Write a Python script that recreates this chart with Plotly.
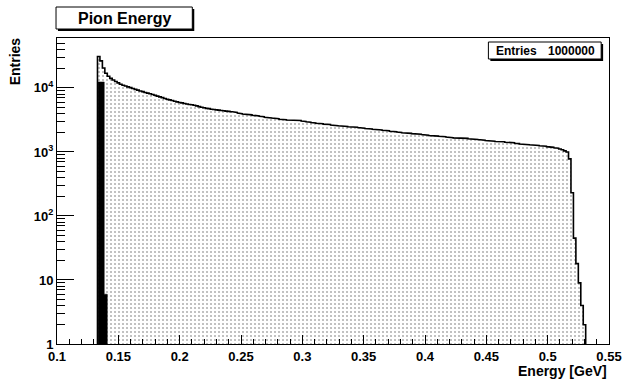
import plotly.graph_objects as go

# ---- data ----
bin_start = 0.133
bin_width = 0.002
counts = [
    31000, 26500, 20500, 17000, 15200, 14100, 13300, 12600, 12000, 11400,
    11000, 10700, 10400, 10100, 9800, 9500, 9250, 8950, 8750, 8500,
    8300, 8100, 7900, 7700, 7450, 7250, 7050, 6850, 6650, 6500,
    6350, 6200, 6050, 5920, 5850, 5700, 5600, 5500, 5450, 5350,
    5250, 5100, 5000, 4900, 4800, 4750, 4650, 4600, 4550, 4500,
    4450, 4400, 4350, 4300, 4250, 4250, 4150, 4050, 3950, 3900,
    3900, 3850, 3800, 3750, 3700, 3650, 3600, 3550, 3480, 3450,
    3400, 3380, 3320, 3300, 3250, 3220, 3180, 3150, 3120, 3160,
    3130, 3170, 3100, 3050, 3000, 2960, 2920, 2880, 2840, 2800,
    2780, 2760, 2720, 2700, 2680, 2640, 2600, 2570, 2560, 2530,
    2510, 2500, 2480, 2470, 2450, 2430, 2400, 2370, 2350, 2330,
    2310, 2280, 2260, 2240, 2220, 2200, 2180, 2160, 2140, 2110,
    2090, 2070, 2050, 2010, 1990, 1980, 1960, 1950, 1930, 1920,
    1900, 1890, 1870, 1860, 1830, 1810, 1790, 1780, 1770, 1760,
    1740, 1730, 1710, 1690, 1670, 1660, 1670, 1660, 1650, 1640,
    1630, 1610, 1600, 1590, 1570, 1560, 1540, 1530, 1510, 1500,
    1480, 1470, 1460, 1450, 1450, 1440, 1420, 1410, 1400, 1390,
    1370, 1350, 1330, 1320, 1310, 1300, 1290, 1280, 1270, 1260,
    1250, 1240, 1230, 1210, 1200, 1180, 1160, 1140, 1110, 1080,
    1040, 1000, 780, 230, 45, 18, 9, 4, 2,
]

black_start = 0.1335
black_width = 0.0025
black_counts = [12400, 12400, 6]

x_ticks = [0.1, 0.15, 0.2, 0.25, 0.3, 0.35, 0.4, 0.45, 0.5, 0.55]
x_tick_labels = ["0.1", "0.15", "0.2", "0.25", "0.3", "0.35", "0.4", "0.45", "0.5", "0.55"]
y_ticks = [1, 10, 100, 1000, 10000]
y_tick_labels = ["1", "10", "10<sup>2</sup>", "10<sup>3</sup>", "10<sup>4</sup>"]

title_text = "Pion Energy"
x_title = "Energy [GeV]"
y_title = "Entries"
entries_label = "Entries"
entries_value = "1000000"


def step_path(start, width, vals, base=1):
    xs, ys = [start], [base]
    for i, v in enumerate(vals):
        x0 = start + i * width
        x1 = x0 + width
        xs += [x0, x1]
        ys += [v, v]
    xs.append(start + len(vals) * width)
    ys.append(base)
    return xs, ys


hx, hy = step_path(bin_start, bin_width, counts)
bx, by = step_path(black_start, black_width, black_counts)

FONT = "Liberation Sans"
W, H = 634, 380
L, R, T, B = 57, 14, 38, 36
PW, PH = W - L - R, H - T - B


def px(p):
    return (p - L) / PW


def py(p):
    return (H - B - p) / PH


fig = go.Figure()
fig.add_trace(go.Scatter(
    x=hx, y=hy, mode="lines", fill="toself",
    line=dict(color="black", width=1.6),
    fillcolor="white",
    fillpattern=dict(shape=".", fgcolor="#666666", bgcolor="white", size=4, solidity=0.22),
    hoverinfo="skip", showlegend=False,
))
fig.add_trace(go.Scatter(
    x=bx, y=by, mode="lines", fill="toself",
    line=dict(color="black", width=0.5), fillcolor="black",
    hoverinfo="skip", showlegend=False,
))

minor_y = [m * 10 ** d for d in range(0, 5) for m in range(2, 10)]

fig.update_xaxes(
    range=[0.1, 0.55], showgrid=False, zeroline=False,
    showline=True, linecolor="black", linewidth=1, mirror=True,
    ticks="inside", ticklen=9, tickcolor="black", tickwidth=1,
    tickmode="array", tickvals=x_ticks, ticktext=x_tick_labels,
    tickfont=dict(family=FONT, size=13, color="black", weight="bold"),
    minor=dict(ticks="inside", ticklen=5, tickcolor="black", dtick=0.01, tick0=0.1, showgrid=False),
)
fig.update_yaxes(
    type="log", range=[0, 4.78], showgrid=False, zeroline=False,
    showline=True, linecolor="black", linewidth=1, mirror=True,
    ticks="inside", ticklen=17, tickcolor="black", tickwidth=1,
    tickmode="array", tickvals=y_ticks, ticktext=y_tick_labels,
    tickfont=dict(family=FONT, size=13, color="black", weight="bold"),
    minor=dict(ticks="inside", ticklen=8, tickcolor="black", tickmode="array",
               tickvals=minor_y, showgrid=False),
)

shapes = [
    dict(type="rect", xref="paper", yref="paper", x0=px(58), x1=px(197), y0=py(31), y1=py(9),
         fillcolor="black", line=dict(width=0)),
    dict(type="rect", xref="paper", yref="paper", x0=px(56), x1=px(195), y0=py(29), y1=py(7),
         fillcolor="white", line=dict(color="black", width=1)),
    dict(type="rect", xref="paper", yref="paper", x0=px(499), x1=px(614), y0=py(61), y1=py(44),
         fillcolor="black", line=dict(width=0)),
    dict(type="rect", xref="paper", yref="paper", x0=px(497), x1=px(612), y0=py(59), y1=py(42),
         fillcolor="white", line=dict(color="black", width=1)),
]

annotations = [
    dict(text=title_text, xref="paper", yref="paper", x=px(125.5), y=py(18),
         xanchor="center", yanchor="middle", showarrow=False,
         font=dict(family=FONT, size=16, color="black", weight="bold")),
    dict(text=entries_label, xref="paper", yref="paper", x=px(503), y=py(51),
         xanchor="left", yanchor="middle", showarrow=False,
         font=dict(family=FONT, size=12, color="black", weight="bold")),
    dict(text=entries_value, xref="paper", yref="paper", x=px(608), y=py(51),
         xanchor="right", yanchor="middle", showarrow=False,
         font=dict(family=FONT, size=12, color="black", weight="bold")),
    dict(text=x_title, xref="paper", yref="paper", x=px(620), y=py(371.5),
         xanchor="right", yanchor="middle", showarrow=False,
         font=dict(family=FONT, size=14, color="black", weight="bold")),
    dict(text=y_title, xref="paper", yref="paper", x=px(15), y=py(61.5),
         xanchor="center", yanchor="middle", textangle=-90, showarrow=False,
         font=dict(family=FONT, size=14, color="black", weight="bold")),
]

fig.update_layout(
    width=W, height=H,
    margin=dict(l=L, r=R, t=T, b=B, pad=0),
    paper_bgcolor="white", plot_bgcolor="white",
    shapes=shapes, annotations=annotations,
    showlegend=False,
)

fig.write_html(
    "out.html",
    config={"displayModeBar": False, "staticPlot": True},
    post_script="document.body.style.margin='0';document.body.style.overflow='hidden';",
)
